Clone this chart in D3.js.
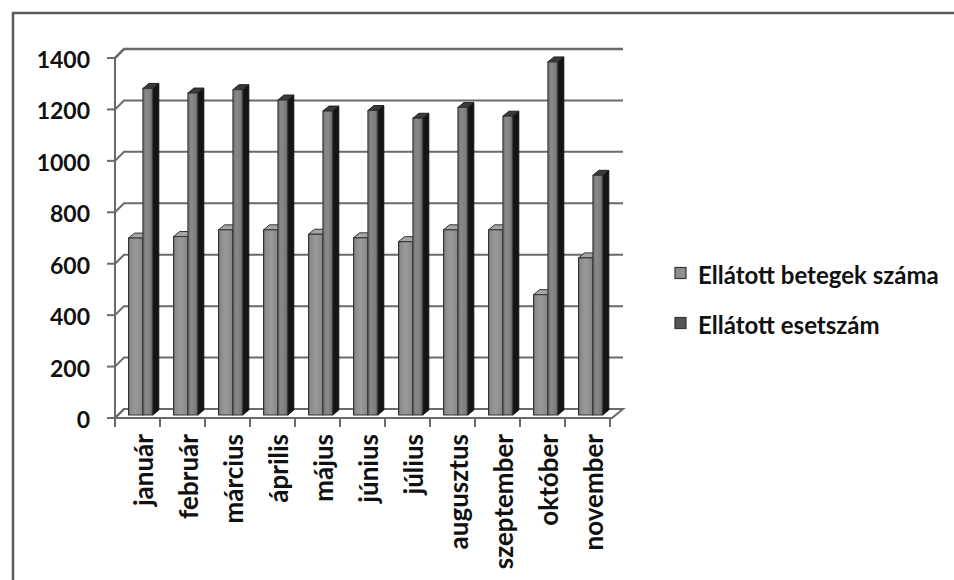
<!DOCTYPE html>
<html>
<head>
<meta charset="utf-8">
<script src="https://cdn.jsdelivr.net/npm/d3@7"></script>
<style>
  html, body { margin: 0; padding: 0; background: #fff; }
  svg { display: block; font-family: Lato, "Open Sans", sans-serif; }
</style>
</head>
<body>
<svg id="chart" width="954" height="580"></svg>
<script>
const categories = ["január","február","március","április","május","június","július","augusztus","szeptember","október","november"];
const seriesNames = ["Ellátott betegek száma", "Ellátott esetszám"];
const betegek   = [688, 694, 720, 720, 703, 689, 674, 720, 720, 468, 611];
const esetszam  = [1270, 1252, 1265, 1225, 1182, 1184, 1154, 1196, 1162, 1373, 932];
const yTicks = [0, 200, 400, 600, 800, 1000, 1200, 1400];

const svg = d3.select("#chart");

// frame
svg.append("rect").attr("x", 13).attr("y", 13).attr("width", 980).attr("height", 620)
  .attr("fill", "none").attr("stroke", "#5a5a5a").attr("stroke-width", 2.5);

const x = d3.scaleBand().domain(categories).range([115, 610]).paddingInner(0).paddingOuter(0);
const y = d3.scaleLinear().domain([0, 1400]).range([418, 58]);
const DX = 9, DY = -9;     // wall depth
const BX = 6, BY = -5;     // bar depth
const BAR_SHIFT = -3;      // bars sit slightly behind front edge
const wallRight = 623;

const defs = svg.append("defs");
function grad(id, stops) {
  const g = defs.append("linearGradient").attr("id", id).attr("x1", 0).attr("x2", 1).attr("y1", 0).attr("y2", 0);
  stops.forEach(s => g.append("stop").attr("offset", s[0]).attr("stop-color", s[1]));
}
grad("gShort", [[0, "#555"], [0.12, "#8a8a8a"], [0.5, "#9a9a9a"], [0.9, "#8a8a8a"], [1, "#6a6a6a"]]);
grad("gTall", [[0, "#6a6a6a"], [0.3, "#8a8a8a"], [0.8, "#7c7c7c"], [1, "#4a4a4a"]]);

// gridlines on back wall, with diagonals on left wall
const grid = svg.append("g");
yTicks.forEach(v => {
  const yf = y(v), yb = y(v) + DY;
  grid.append("path")
    .attr("d", `M115,${yf} L${115 + DX},${yb} L${wallRight},${yb}`)
    .attr("fill", "none").attr("stroke", "#6a6a6a").attr("stroke-width", v === 1400 ? 2.5 : 2);
});

// floor
svg.append("path")
  .attr("d", `M115,${y(0)} L612,${y(0)} L${wallRight},${y(0) + DY} L${115 + DX},${y(0) + DY} Z`)
  .attr("fill", "none").attr("stroke", "#6a6a6a").attr("stroke-width", 2);

// bars
const bw = x.bandwidth();
const gBars = svg.append("g");
categories.forEach((c, i) => {
  const b = x(c);
  const base = y(0) + BAR_SHIFT;
  // short bar (series 1)
  const s0 = b + bw * 0.3, s1 = b + bw * 0.62;
  const sTop = y(betegek[i]) + BAR_SHIFT;
  gBars.append("path")
    .attr("d", `M${s0},${sTop} L${s1},${sTop} L${s1 + BX},${sTop + BY} L${s0 + BX},${sTop + BY} Z`)
    .attr("fill", "#a5a5a5").attr("stroke", "#333").attr("stroke-width", 1);
  gBars.append("rect").attr("x", s0).attr("y", sTop).attr("width", s1 - s0).attr("height", base - sTop)
    .attr("fill", "url(#gShort)").attr("stroke", "#333").attr("stroke-width", 1);
  // tall bar (series 2)
  const t0 = s1, t1 = b + bw * 0.84;
  const tTop = y(esetszam[i]) + BAR_SHIFT;
  gBars.append("path")
    .attr("d", `M${t1},${base} L${t1 + BX},${base + BY} L${t1 + BX},${tTop + BY} L${t1},${tTop} Z`)
    .attr("fill", "#141414").attr("stroke", "#111").attr("stroke-width", 1);
  gBars.append("path")
    .attr("d", `M${t0},${tTop} L${t1},${tTop} L${t1 + BX},${tTop + BY} L${t0 + BX},${tTop + BY} Z`)
    .attr("fill", "#3a3a3a").attr("stroke", "#222").attr("stroke-width", 1);
  gBars.append("rect").attr("x", t0).attr("y", tTop).attr("width", t1 - t0).attr("height", base - tTop)
    .attr("fill", "url(#gTall)").attr("stroke", "#333").attr("stroke-width", 1);
});

// front floor edge over bars
svg.append("line").attr("x1", 115).attr("x2", 612).attr("y1", y(0)).attr("y2", y(0))
  .attr("stroke", "#6a6a6a").attr("stroke-width", 2);

// y axis
const yAxis = svg.append("g");
yAxis.append("line").attr("x1", 115).attr("x2", 115).attr("y1", y(1400)).attr("y2", y(0) + 9)
  .attr("stroke", "#6a6a6a").attr("stroke-width", 2);
yTicks.forEach(v => {
  yAxis.append("line").attr("x1", 107).attr("x2", 115).attr("y1", y(v)).attr("y2", y(v))
    .attr("stroke", "#6a6a6a").attr("stroke-width", 2);
  yAxis.append("text").attr("x", 90).attr("y", y(v) + 1)
    .attr("text-anchor", "end").attr("dominant-baseline", "central")
    .attr("font-size", 23).attr("font-weight", 700).attr("fill", "#111").text(v);
});

// x axis ticks & labels
const xAxis = svg.append("g");
const tickXs = categories.map(c => x(c)).concat([x.range()[1]]);
tickXs.forEach(tx => {
  xAxis.append("line").attr("x1", tx).attr("x2", tx).attr("y1", y(0)).attr("y2", y(0) + 9)
    .attr("stroke", "#6a6a6a").attr("stroke-width", 2);
});
categories.forEach(c => {
  const cx = x(c) + bw / 2 + 5;
  xAxis.append("text")
    .attr("transform", `translate(${cx},434) rotate(-90)`)
    .attr("text-anchor", "end").attr("dominant-baseline", "central")
    .attr("font-size", 26).attr("font-weight", 700).attr("fill", "#111").text(c);
});

// legend
const legend = svg.append("g");
const legendColors = ["#8f8f8f", "#555"];
seriesNames.forEach((s, i) => {
  const ly = 273 + i * 50;
  legend.append("rect").attr("x", 675).attr("y", ly - 5.5).attr("width", 11).attr("height", 11)
    .attr("fill", legendColors[i]).attr("stroke", "#333").attr("stroke-width", 1.2);
  legend.append("text").attr("x", 698).attr("y", ly + 1).attr("dominant-baseline", "central")
    .attr("font-size", 24).attr("font-weight", 700).attr("fill", "#111").text(s);
});
</script>
</body>
</html>
